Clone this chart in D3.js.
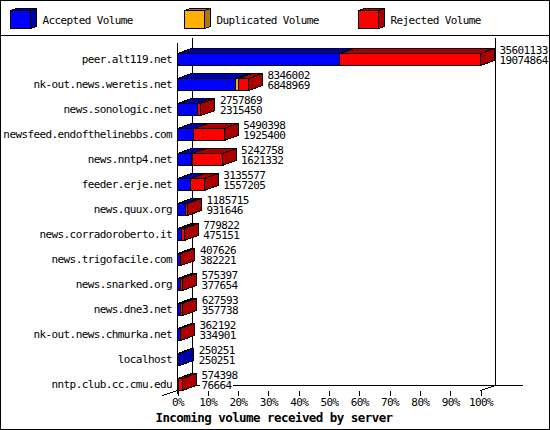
<!DOCTYPE html>
<html>
<head>
<meta charset="utf-8">
<script src="https://cdn.jsdelivr.net/npm/d3@7"></script>
<style>
  body { margin: 0; background: #fff; }
  svg text { font-family: "DejaVu Sans Mono", monospace; font-size: 11px; letter-spacing: -0.6px; fill: #000; }
</style>
</head>
<body>
<div id="chart"></div>
<script>
// Data
var hosts = [
  "peer.alt119.net", "nk-out.news.weretis.net", "news.sonologic.net",
  "newsfeed.endofthelinebbs.com", "news.nntp4.net", "feeder.erje.net",
  "news.quux.org", "news.corradoroberto.it", "news.trigofacile.com",
  "news.snarked.org", "news.dne3.net", "nk-out.news.chmurka.net",
  "localhost", "nntp.club.cc.cmu.edu"
];
var totalVolume = [35601133, 8346002, 2757869, 5490398, 5242758, 3135577, 1185715,
  779822, 407626, 575397, 627593, 362192, 250251, 574398];
var acceptedVolume = [19074864, 6848969, 2315450, 1925400, 1621332, 1557205, 931646,
  475151, 382221, 377654, 357738, 334901, 250251, 76664];
// duplicated volume is only a thin sliver
var duplicatedVolume = [0, 310000, 0, 0, 110000, 0, 0, 0, 0, 0, 0, 0, 0, 0];
var legendLabels = ["Accepted Volume", "Duplicated Volume", "Rejected Volume"];
var frontColors = ["#0000ff", "#ffb000", "#ff0000"];
var darkColors = ["#0000aa", "#b07800", "#aa0000"];
var tickValues = [0, 0.1, 0.2, 0.3, 0.4, 0.5, 0.6, 0.7, 0.8, 0.9, 1];

var width = 550, height = 430;
var maxTotal = d3.max(totalVolume);

var svg = d3.select("#chart").append("svg")
  .attr("width", width)
  .attr("height", height)
  .attr("shape-rendering", "crispEdges");

// frame and legend divider
svg.append("rect").attr("x", 0.5).attr("y", 0.5).attr("width", width - 1).attr("height", height - 1)
  .attr("fill", "#fff").attr("stroke", "#000");
svg.append("line").attr("x1", 0).attr("x2", width).attr("y1", 35.5).attr("y2", 35.5).attr("stroke", "#000");

// draws a small 3d box (front, top, side)
function cube(g, x0, x1, yTop, yBot, dx, dy, front, dark) {
  g.append("polygon")
    .attr("points", [[x0, yTop], [x1, yTop], [x1, yBot], [x0, yBot]].join(" "))
    .attr("fill", front).attr("stroke", "#000");
  g.append("polygon")
    .attr("points", [[x0, yTop], [x0 + dx, yTop - dy], [x1 + dx, yTop - dy], [x1, yTop]].join(" "))
    .attr("fill", dark).attr("stroke", "#000");
  g.append("polygon")
    .attr("points", [[x1, yTop], [x1 + dx, yTop - dy], [x1 + dx, yBot - dy], [x1, yBot]].join(" "))
    .attr("fill", dark).attr("stroke", "#000");
}

// legend
var legend = svg.append("g");
legendLabels.forEach(function (label, i) {
  var lx = 10.5 + i * 174;
  cube(legend, lx, lx + 20, 10.5, 28.5, 6, 2, frontColors[i], darkColors[i]);
  legend.append("text")
    .attr("x", lx + 32)
    .attr("y", 20)
    .attr("dominant-baseline", "central")
    .text(label);
});

// scales
var x = d3.scaleLinear().domain([0, 1]).range([177.5, 480.5]);
var y = d3.scaleBand().domain(hosts).range([46.5, 396.5]);
var dx = 14, dy = 5;
var backX = 192.5, floorBack = 385.5, floorFront = 390.5;

// back wall lines
svg.append("line").attr("x1", backX).attr("x2", backX).attr("y1", 38).attr("y2", floorBack).attr("stroke", "#000");
svg.append("line").attr("x1", x(1) + 15).attr("x2", x(1) + 15).attr("y1", 38).attr("y2", floorBack).attr("stroke", "#000");
svg.append("line").attr("x1", backX).attr("x2", 523).attr("y1", floorBack).attr("y2", floorBack).attr("stroke", "#000");
// front axis and floor edges
svg.append("line").attr("x1", x(0)).attr("x2", x(0)).attr("y1", 43).attr("y2", floorFront + 3).attr("stroke", "#000");
svg.append("line").attr("x1", x(0) - 15).attr("x2", x(0)).attr("y1", floorFront + 5).attr("y2", floorFront).attr("stroke", "#000");
svg.append("line").attr("x1", x(1)).attr("x2", x(1) + 15).attr("y1", floorFront).attr("y2", floorBack).attr("stroke", "#000");

// x axis
var xAxis = svg.append("g")
  .attr("transform", "translate(0," + floorFront + ")")
  .call(d3.axisBottom(x).tickValues(tickValues).tickSize(5).tickPadding(3).tickFormat(d3.format(".0%")));
xAxis.select(".domain").remove();
xAxis.selectAll("text").attr("font-family", null).attr("font-size", null).attr("fill", "#000");
xAxis.attr("font-family", null).attr("font-size", null);

// host labels
svg.append("g").selectAll("text")
  .data(hosts)
  .enter()
  .append("text")
  .attr("x", 172)
  .attr("y", function (d) { return y(d) + y.bandwidth() / 2; })
  .attr("text-anchor", "end")
  .attr("dominant-baseline", "central")
  .text(function (d) { return d; });

// bars
var bars = svg.append("g");
hosts.forEach(function (host, i) {
  var c = y(host) + y.bandwidth() / 2;
  var rejected = totalVolume[i] - acceptedVolume[i] - duplicatedVolume[i];
  var parts = [acceptedVolume[i], duplicatedVolume[i], rejected];
  var cum = 0;
  var g = bars.append("g");
  parts.forEach(function (v, k) {
    var x0 = x(cum / maxTotal);
    cum += v;
    var x1 = x(cum / maxTotal);
    if (v > 0) cube(g, x0, x1, Math.round(c - 6) + 0.5, Math.round(c + 6) + 0.5, dx, dy, frontColors[k], darkColors[k]);
  });

  // value labels on a white background
  var lx = x(totalVolume[i] / maxTotal) + dx + 5;
  [[totalVolume[i], c - 9], [acceptedVolume[i], c + 1.5]].forEach(function (p) {
    var bg = g.append("rect").attr("fill", "#fff");
    var t = g.append("text")
      .attr("x", lx)
      .attr("y", p[1])
      .attr("dominant-baseline", "central")
      .text(p[0]);
    var w = t.node().getComputedTextLength();
    bg.attr("x", lx - 1).attr("y", p[1] - 4).attr("width", w + 2).attr("height", 8);
  });
});

// axis title
svg.append("text")
  .attr("x", 274)
  .attr("y", 417)
  .attr("text-anchor", "middle")
  .attr("dominant-baseline", "central")
  .style("font-weight", "bold")
  .style("font-size", "12.5px")
  .style("letter-spacing", "-0.55px")
  .text("Incoming volume received by server");
</script>
</body>
</html>
